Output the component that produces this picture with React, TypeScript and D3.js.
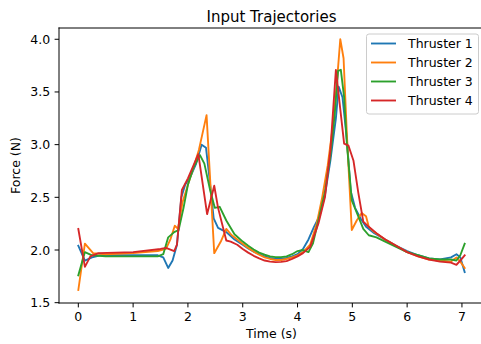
import React from "react";
import * as d3 from "d3";

const seriesNames = ["Thruster 1", "Thruster 2", "Thruster 3", "Thruster 4"];
const colors = ["#1f77b4", "#ff7f0e", "#2ca02c", "#d62728"];

const t1 = [0, 0.12, 0.25, 0.4, 1.0, 1.45, 1.55, 1.64, 1.72, 1.8, 1.88, 1.95, 2.05, 2.15, 2.25, 2.33, 2.4, 2.47, 2.55, 2.7, 2.85, 3.0, 3.1, 3.2, 3.3, 3.4, 3.5, 3.6, 3.7, 3.8, 3.9, 4.0, 4.1, 4.2, 4.3, 4.4, 4.5, 4.6, 4.7, 4.75, 4.82, 4.9, 4.97, 5.05, 5.15, 5.25, 5.4, 5.6, 5.8, 6.0, 6.2, 6.4, 6.6, 6.8, 6.9, 6.97, 7.05];
const v1 = [2.04, 1.9, 1.93, 1.95, 1.95, 1.95, 1.93, 1.83, 1.9, 2.05, 2.5, 2.62, 2.7, 2.82, 3.0, 2.97, 2.65, 2.3, 2.21, 2.17, 2.1, 2.05, 2.015, 1.985, 1.96, 1.94, 1.925, 1.917, 1.917, 1.925, 1.94, 1.96, 2.01, 2.1, 2.22, 2.32, 2.52, 2.85, 3.25, 3.55, 3.45, 3.05, 2.56, 2.4, 2.3, 2.22, 2.16, 2.1, 2.04, 1.99, 1.95, 1.92, 1.91, 1.93, 1.96, 1.93, 1.79];

const t2 = [0, 0.12, 0.27, 0.5, 1.0, 1.45, 1.6, 1.68, 1.76, 1.82, 1.9, 2.0, 2.1, 2.2, 2.34, 2.48, 2.6, 2.7, 2.8, 3.0, 3.1, 3.2, 3.3, 3.4, 3.5, 3.6, 3.7, 3.8, 3.9, 4.0, 4.1, 4.23, 4.35, 4.45, 4.55, 4.65, 4.72, 4.78, 4.84, 4.9, 4.99, 5.08, 5.17, 5.25, 5.3, 5.4, 5.6, 5.8, 6.0, 6.2, 6.4, 6.6, 6.8, 6.9, 6.97, 7.05];
const v2 = [1.62, 2.06, 1.97, 1.96, 1.97, 1.99, 2.01, 2.1, 2.23, 2.2, 2.45, 2.62, 2.78, 2.95, 3.28, 1.97, 2.08, 2.2, 2.14, 2.06, 2.02, 1.985, 1.955, 1.93, 1.915, 1.905, 1.905, 1.915, 1.93, 1.95, 1.98, 2.05, 2.25, 2.5, 2.8, 3.2, 3.6, 4.0, 3.82, 3.1, 2.19, 2.28, 2.35, 2.32, 2.22, 2.17, 2.1, 2.04, 1.98, 1.94, 1.91, 1.9, 1.89, 1.93, 1.89, 1.83];

const t3 = [0, 0.12, 0.25, 0.5, 1.0, 1.45, 1.55, 1.64, 1.75, 1.83, 1.92, 2.0, 2.1, 2.22, 2.3, 2.4, 2.49, 2.58, 2.7, 2.85, 3.0, 3.1, 3.2, 3.3, 3.4, 3.5, 3.6, 3.7, 3.8, 3.9, 4.0, 4.1, 4.2, 4.28, 4.38, 4.5, 4.6, 4.68, 4.74, 4.79, 4.85, 4.9, 4.99, 5.1, 5.2, 5.3, 5.44, 5.6, 5.8, 6.0, 6.2, 6.4, 6.6, 6.8, 6.9, 6.97, 7.05];
const v3 = [1.76, 1.98, 1.95, 1.94, 1.94, 1.94, 1.96, 2.12, 2.17, 2.19, 2.4, 2.62, 2.78, 2.9, 2.82, 2.58, 2.4, 2.41, 2.28, 2.15, 2.08, 2.04, 2.005, 1.975, 1.955, 1.94, 1.932, 1.932, 1.94, 1.96, 1.99, 2.0, 1.98, 2.06, 2.28, 2.55, 2.9, 3.3, 3.7, 3.71, 3.45, 3.01, 2.47, 2.33, 2.2, 2.14, 2.12, 2.08, 2.03, 1.98, 1.95, 1.92, 1.91, 1.91, 1.9, 1.95, 2.06];

const t4 = [0, 0.12, 0.22, 0.37, 1.0, 1.5, 1.6, 1.75, 1.8, 1.89, 2.0, 2.1, 2.19, 2.35, 2.48, 2.55, 2.7, 2.78, 2.9, 3.0, 3.1, 3.2, 3.3, 3.4, 3.5, 3.6, 3.7, 3.8, 3.9, 4.0, 4.1, 4.23, 4.38, 4.5, 4.6, 4.7, 4.85, 4.93, 5.02, 5.11, 5.2, 5.3, 5.44, 5.6, 5.8, 6.0, 6.2, 6.4, 6.6, 6.8, 6.9, 6.97, 7.05];
const v4 = [2.2, 1.84, 1.94, 1.97, 1.98, 2.01, 2.02, 1.99, 2.05, 2.57, 2.68, 2.8, 2.91, 2.34, 2.61, 2.4, 2.09, 2.08, 2.05, 2.01, 1.975, 1.945, 1.92, 1.9, 1.89, 1.885, 1.887, 1.895, 1.915, 1.94, 1.97, 2.03, 2.25, 2.5, 2.95, 3.71, 3.01, 2.99, 2.85, 2.54, 2.27, 2.22, 2.16, 2.1, 2.04, 1.98, 1.94, 1.91, 1.89, 1.88, 1.86, 1.9, 1.95];

const times = [t1, t2, t3, t4];
const values = [v1, v2, v3, v4];

const xTicks = [0, 1, 2, 3, 4, 5, 6, 7];
const yTicks = [1.5, 2.0, 2.5, 3.0, 3.5, 4.0];

const W = 481;
const H = 344;
const L = 59, R = 484, T = 28, B = 303;
const FONT = "DejaVu Sans";
const FS = 12.5;
const TICK = 4.4;

export default function App() {
  const x = d3.scaleLinear().domain([-0.3525, 7.4025]).range([L, R]);
  const y = d3.scaleLinear().domain([1.497, 4.107]).range([B, T]);
  const line = d3
    .line<[number, number]>()
    .x((d) => x(d[0]))
    .y((d) => y(d[1]));

  const legendX = 366.5, legendY = 34, legendW = 112, legendH = 80;
  const rowY = (i: number) => 43.5 + i * 19;

  return (
    <>
      <style>{`body{margin:0}`}</style>
      <svg width={W} height={H} style={{ display: "block", fontFamily: FONT }}>
        <rect x={0} y={0} width={W} height={H} fill="#fff" />
        <defs>
          <clipPath id="plotclip">
            <rect x={L} y={T} width={R - L} height={B - T} />
          </clipPath>
        </defs>
        <g clipPath="url(#plotclip)">
          {values.map((vals, i) => (
            <path
              key={i}
              d={line(vals.map((v, j) => [times[i][j], v] as [number, number])) || ""}
              fill="none"
              stroke={colors[i]}
              strokeWidth={1.875}
              strokeLinejoin="round"
              strokeLinecap="square"
            />
          ))}
        </g>
        <g stroke="#000" strokeWidth={1} fill="none" strokeLinecap="square">
          <line x1={L} y1={T} x2={L} y2={B} />
          <line x1={L} y1={B} x2={R} y2={B} />
          <line x1={L} y1={T} x2={R} y2={T} />
          <line x1={R} y1={T} x2={R} y2={B} />
        </g>
        {xTicks.map((t) => (
          <g key={"x" + t}>
            <line x1={x(t)} x2={x(t)} y1={B} y2={B + TICK} stroke="#000" strokeWidth={1} />
            <text x={x(t)} y={B + TICK + 4.4 + 9.2} fontSize={FS} textAnchor="middle" fill="#000">
              {t}
            </text>
          </g>
        ))}
        {yTicks.map((t) => (
          <g key={"y" + t}>
            <line x1={L - TICK} x2={L} y1={y(t)} y2={y(t)} stroke="#000" strokeWidth={1} />
            <text x={L - TICK - 4.4} y={y(t) + 4.5} fontSize={FS} textAnchor="end" fill="#000">
              {t.toFixed(1)}
            </text>
          </g>
        ))}
        <text x={(L + R) / 2} y={338} fontSize={FS} textAnchor="middle" fill="#000">
          Time (s)
        </text>
        <text
          transform={`translate(20,${(T + B) / 2}) rotate(-90)`}
          fontSize={FS}
          textAnchor="middle"
          fill="#000"
        >
          Force (N)
        </text>
        <text x={(L + R) / 2} y={21.5} fontSize={15} textAnchor="middle" fill="#000">
          Input Trajectories
        </text>
        <rect
          x={legendX}
          y={legendY}
          width={legendW}
          height={legendH}
          rx={2.5}
          fill="#fff"
          fillOpacity={0.8}
          stroke="#cccccc"
          strokeWidth={1}
        />
        {seriesNames.map((n, i) => (
          <g key={n}>
            <line
              x1={371}
              x2={396}
              y1={rowY(i)}
              y2={rowY(i)}
              stroke={colors[i]}
              strokeWidth={1.875}
            />
            <text x={408} y={rowY(i) + 4.5} fontSize={FS} fill="#000">
              {n}
            </text>
          </g>
        ))}
      </svg>
    </>
  );
}
